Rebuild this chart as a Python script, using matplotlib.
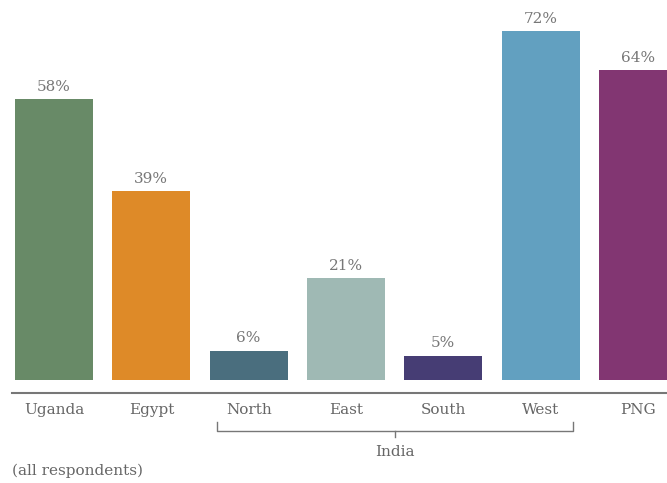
import matplotlib
matplotlib.use("Agg")
import matplotlib.pyplot as plt

categories = ["Uganda", "Egypt", "North", "East", "South", "West", "PNG"]
values = [58, 39, 6, 21, 5, 72, 64]
colors = ["#688a67", "#de8a28", "#4a6e7e", "#9fb9b4", "#463d74", "#62a0c0", "#823672"]
group_label = "India"
group_members = ["North", "East", "South", "West"]
note = "(all respondents)"

W, H = 667, 483
fig = plt.figure(figsize=(W / 100, H / 100), dpi=100)
fig.patch.set_facecolor("white")

ax = fig.add_axes([0, 103 / H, 1, 1 - 103 / H])
x = list(range(len(categories)))
ax.bar(x, values, width=0.80, color=colors)
ax.set_xlim(-0.555, 6.298)
ax.set_ylim(0, 78.5)
ax.axis("off")

font = "DejaVu Serif"
for xi, v in zip(x, values):
    ax.annotate(f"{v}%", (xi, v), xytext=(0, 4), textcoords="offset points",
                ha="center", va="bottom", color="#777777", fontsize=11, family=font)

# baseline
def fx(px):
    return px / W

def fy(py):
    return 1 - py / H

fig.add_artist(plt.Line2D([fx(12), fx(667)], [fy(393), fy(393)], color="#777777", lw=1.5))

# category labels
for xi, c in zip(x, categories):
    px = ax.transData.transform((xi, 0))[0]
    fig.text(px / W, fy(410), c, ha="center", va="center", color="#666666",
             fontsize=11, family=font)

# bracket for India
i0 = categories.index(group_members[0])
i1 = categories.index(group_members[-1])
xl = ax.transData.transform((i0 - 0.33, 0))[0]
xr = ax.transData.transform((i1 + 0.33, 0))[0]
xm = (xl + xr) / 2
fig.add_artist(plt.Line2D([fx(xl), fx(xl), fx(xr), fx(xr)],
                          [fy(422), fy(431), fy(431), fy(422)], color="#777777", lw=1))
fig.add_artist(plt.Line2D([fx(xm), fx(xm)], [fy(431), fy(437)], color="#777777", lw=1))
fig.text(fx(xm), fy(452), group_label, ha="center", va="center", color="#666666",
         fontsize=11, family=font)

fig.text(fx(12), fy(471), note, ha="left", va="center", color="#666666",
         fontsize=11, family=font)

fig.savefig("out.png", dpi=100, facecolor="white")
